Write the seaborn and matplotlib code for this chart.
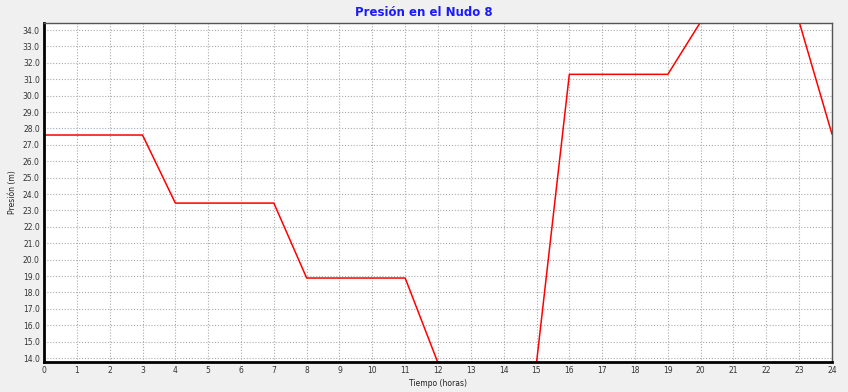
import matplotlib
matplotlib.use("Agg")
import matplotlib.pyplot as plt
import seaborn as sns
import pandas as pd

hours = [0, 3, 4, 7, 8, 11, 12, 15, 16, 19, 20, 23, 24]
pressure = [27.6, 27.6, 23.45, 23.45, 18.88, 18.88, 13.7, 13.7, 31.3, 31.3, 34.5, 34.5, 27.65]
x_ticks = list(range(0, 25))
y_ticks = [14.0 + i for i in range(21)]

sns.set_style("white")
plt.rcParams['font.family'] = ['DejaVu Sans']

df = pd.DataFrame({"Tiempo": hours, "Presion": pressure})

fig = plt.figure(figsize=(8.48, 3.92), dpi=100, facecolor="#f0f0f0")
ax = fig.add_axes([44/848, 1-362/392, (832-44)/848, (362-23)/392])
ax.set_facecolor("white")

sns.lineplot(data=df, x="Tiempo", y="Presion", ax=ax, color="#ff0000", linewidth=1.1)

ax.set_xlim(0, 24)
ax.set_ylim(13.76, 34.43)
ax.set_xticks(x_ticks)
ax.set_xticklabels([str(t) for t in x_ticks])
ax.set_yticks(y_ticks)
ax.set_yticklabels([f"{v:.1f}" for v in y_ticks])
ax.tick_params(axis="both", labelsize=5.5, length=0, pad=3, colors="#333333")
ax.grid(True, color="#aaaaaa", linestyle=(0, (1, 1.6)), linewidth=0.8)

for s in ["left", "bottom"]:
    ax.spines[s].set_color("black")
    ax.spines[s].set_linewidth(2)
ax.spines["top"].set_color("#555555")
ax.spines["top"].set_linewidth(1)
ax.spines["right"].set_color("#555555")
ax.spines["right"].set_linewidth(1)
ax.spines["right"].set_linestyle((0, (2, 1)))

ax.set_xlabel("Tiempo (horas)", fontsize=5.5, labelpad=3, color="#222222")
ax.set_ylabel("Presión (m)", fontsize=5.5, labelpad=4, color="#222222")
fig.text(424/848, 1-12/392, "Presión en el Nudo 8", ha="center", va="center",
         fontsize=8.5, fontweight="bold", color="#1a1aff")

fig.savefig("out.png", dpi=100, facecolor=fig.get_facecolor())
